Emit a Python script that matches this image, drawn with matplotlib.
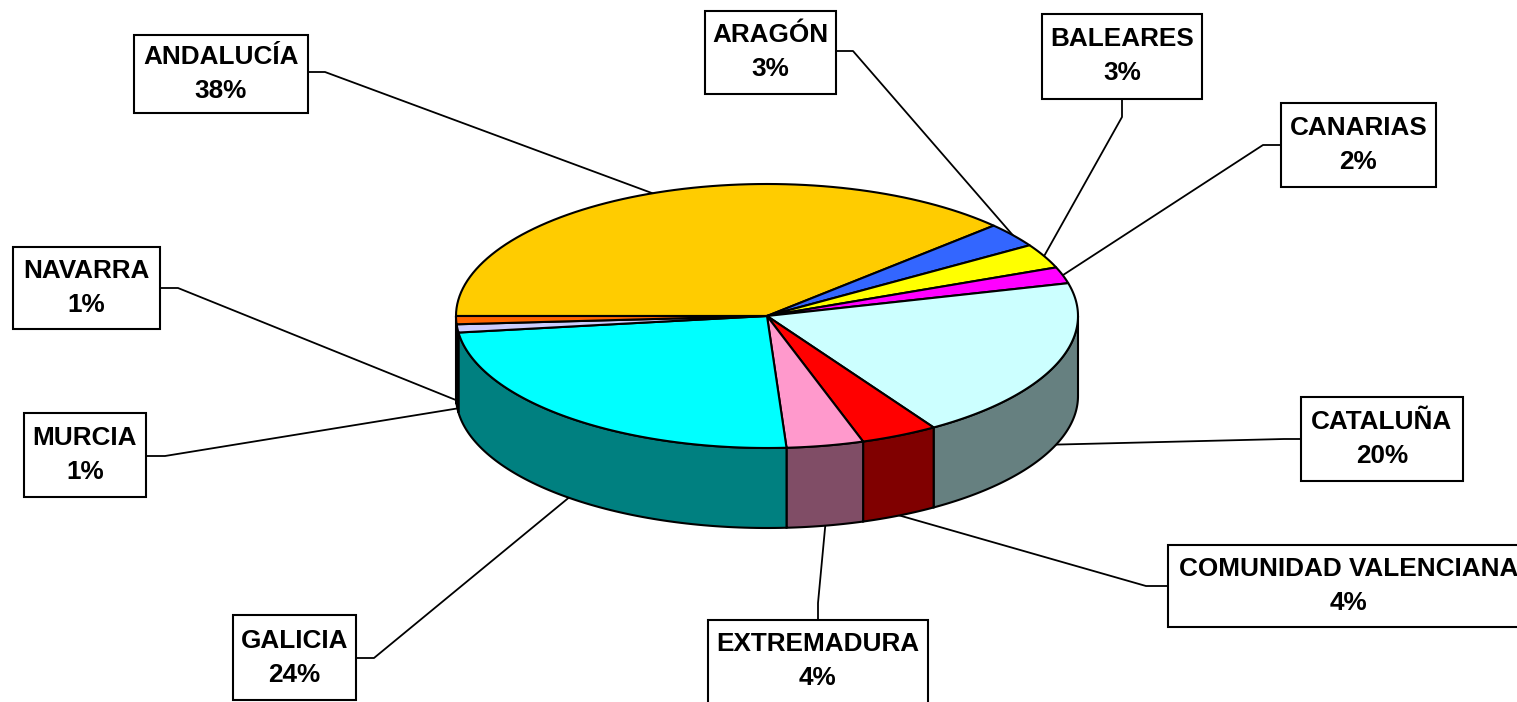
import matplotlib.pyplot as plt
from matplotlib.patches import Polygon, Rectangle
import numpy as np

# datos del gráfico
regiones = ["ANDALUCÍA", "ARAGÓN", "BALEARES", "CANARIAS", "CATALUÑA",
            "COMUNIDAD VALENCIANA", "EXTREMADURA", "GALICIA", "MURCIA", "NAVARRA"]
porcentajes = [38, 3, 3, 2, 20, 4, 4, 24, 1, 1]

colores = ["#FFCC00", "#3366FF", "#FFFF00", "#FF00FF", "#CCFFFF",
           "#FF0000", "#FF99CC", "#00FFFF", "#CCCCFF", "#FF6600"]

# cajas de etiqueta (x0, y0, x1, y1) en pixeles y puntos del conector (anclaje, codo)
cajas = [(134, 35, 308, 113), (705, 11, 836, 94), (1042, 14, 1202, 99),
         (1281, 103, 1436, 187), (1301, 397, 1463, 481), (1168, 545, 1560, 627),
         (708, 620, 928, 712), (233, 615, 356, 700), (24, 413, 146, 497),
         (13, 247, 160, 329)]
centros_texto = [None, None, None, None, None, (1349, 586), (818, 661), None, None, None]
conectores = [((308, 72), (325, 72)), ((836, 51), (853, 51)), ((1122, 99), (1122, 117)),
              ((1281, 145), (1263, 145)), ((1301, 439), (1284, 439)), ((1168, 586), (1146, 586)),
              ((818, 620), (818, 603)), ((356, 658), (374, 658)), ((146, 456), (165, 456)),
              ((160, 288), (178, 288))]

# geometria del pastel 3D
cx, cy = 767, 316
ra, rb = 311, 132
prof = 80
inicio = 180.0


def oscurecer(c):
    r, g, b = plt.matplotlib.colors.to_rgb(c)
    return (r * 0.5, g * 0.5, b * 0.5)


def arco(t1, t2, dy=0, n=80):
    t = np.radians(np.linspace(t1, t2, n))
    return np.column_stack([cx + ra * np.cos(t), cy - rb * np.sin(t) + dy])


fig = plt.figure(figsize=(15.17, 7.02), dpi=100)
ax = fig.add_axes([0, 0, 1, 1])
ax.set_xlim(0, 1517)
ax.set_ylim(702, 0)
ax.axis("off")

total = sum(porcentajes)
angulos = []
acum = 0
for v in porcentajes:
    a1 = inicio - acum / total * 360
    a2 = inicio - (acum + v) / total * 360
    angulos.append((a2, a1))
    acum += v

# paredes laterales (solo la mitad frontal)
for (a2, a1), c in zip(angulos, colores):
    lo, hi = max(a2, -180), min(a1, 0)
    if lo < hi:
        pts = np.vstack([arco(lo, hi), arco(hi, lo, prof)])
        ax.add_patch(Polygon(pts, closed=True, facecolor=oscurecer(c),
                             edgecolor="black", lw=1.5, zorder=2))

# caras superiores
for (a2, a1), c in zip(angulos, colores):
    pts = np.vstack([[cx, cy], arco(a1, a2)])
    ax.add_patch(Polygon(pts, closed=True, facecolor=c, edgecolor="black",
                         lw=1.5, zorder=3, joinstyle="round"))

# etiquetas y conectores
for i, nombre in enumerate(regiones):
    a2, a1 = angulos[i]
    m = np.radians((a1 + a2) / 2)
    px = cx + ra * np.cos(m)
    py = cy - rb * np.sin(m) + (prof if np.sin(m) < 0 else 0)
    (ax0, ay0), (ex, ey) = conectores[i]
    ax.plot([ax0, ex, px], [ay0, ey, py], color="black", lw=1.3, zorder=1)

    x0, y0, x1, y1 = cajas[i]
    ax.add_patch(Rectangle((x0, y0), x1 - x0, y1 - y0, facecolor="white",
                           edgecolor="black", lw=1.5, zorder=4))
    if centros_texto[i] is not None:
        xm, ym = centros_texto[i]
    else:
        xm, ym = (x0 + x1) / 2, (y0 + y1) / 2
    ax.text(xm, ym - 17, nombre, ha="center", va="center", fontsize=18.8,
            fontweight="bold", family="Liberation Sans", zorder=5)
    ax.text(xm, ym + 17, f"{porcentajes[i]}%", ha="center", va="center", fontsize=18.8,
            fontweight="bold", family="Liberation Sans", zorder=5)

fig.savefig("out.png", dpi=100)
